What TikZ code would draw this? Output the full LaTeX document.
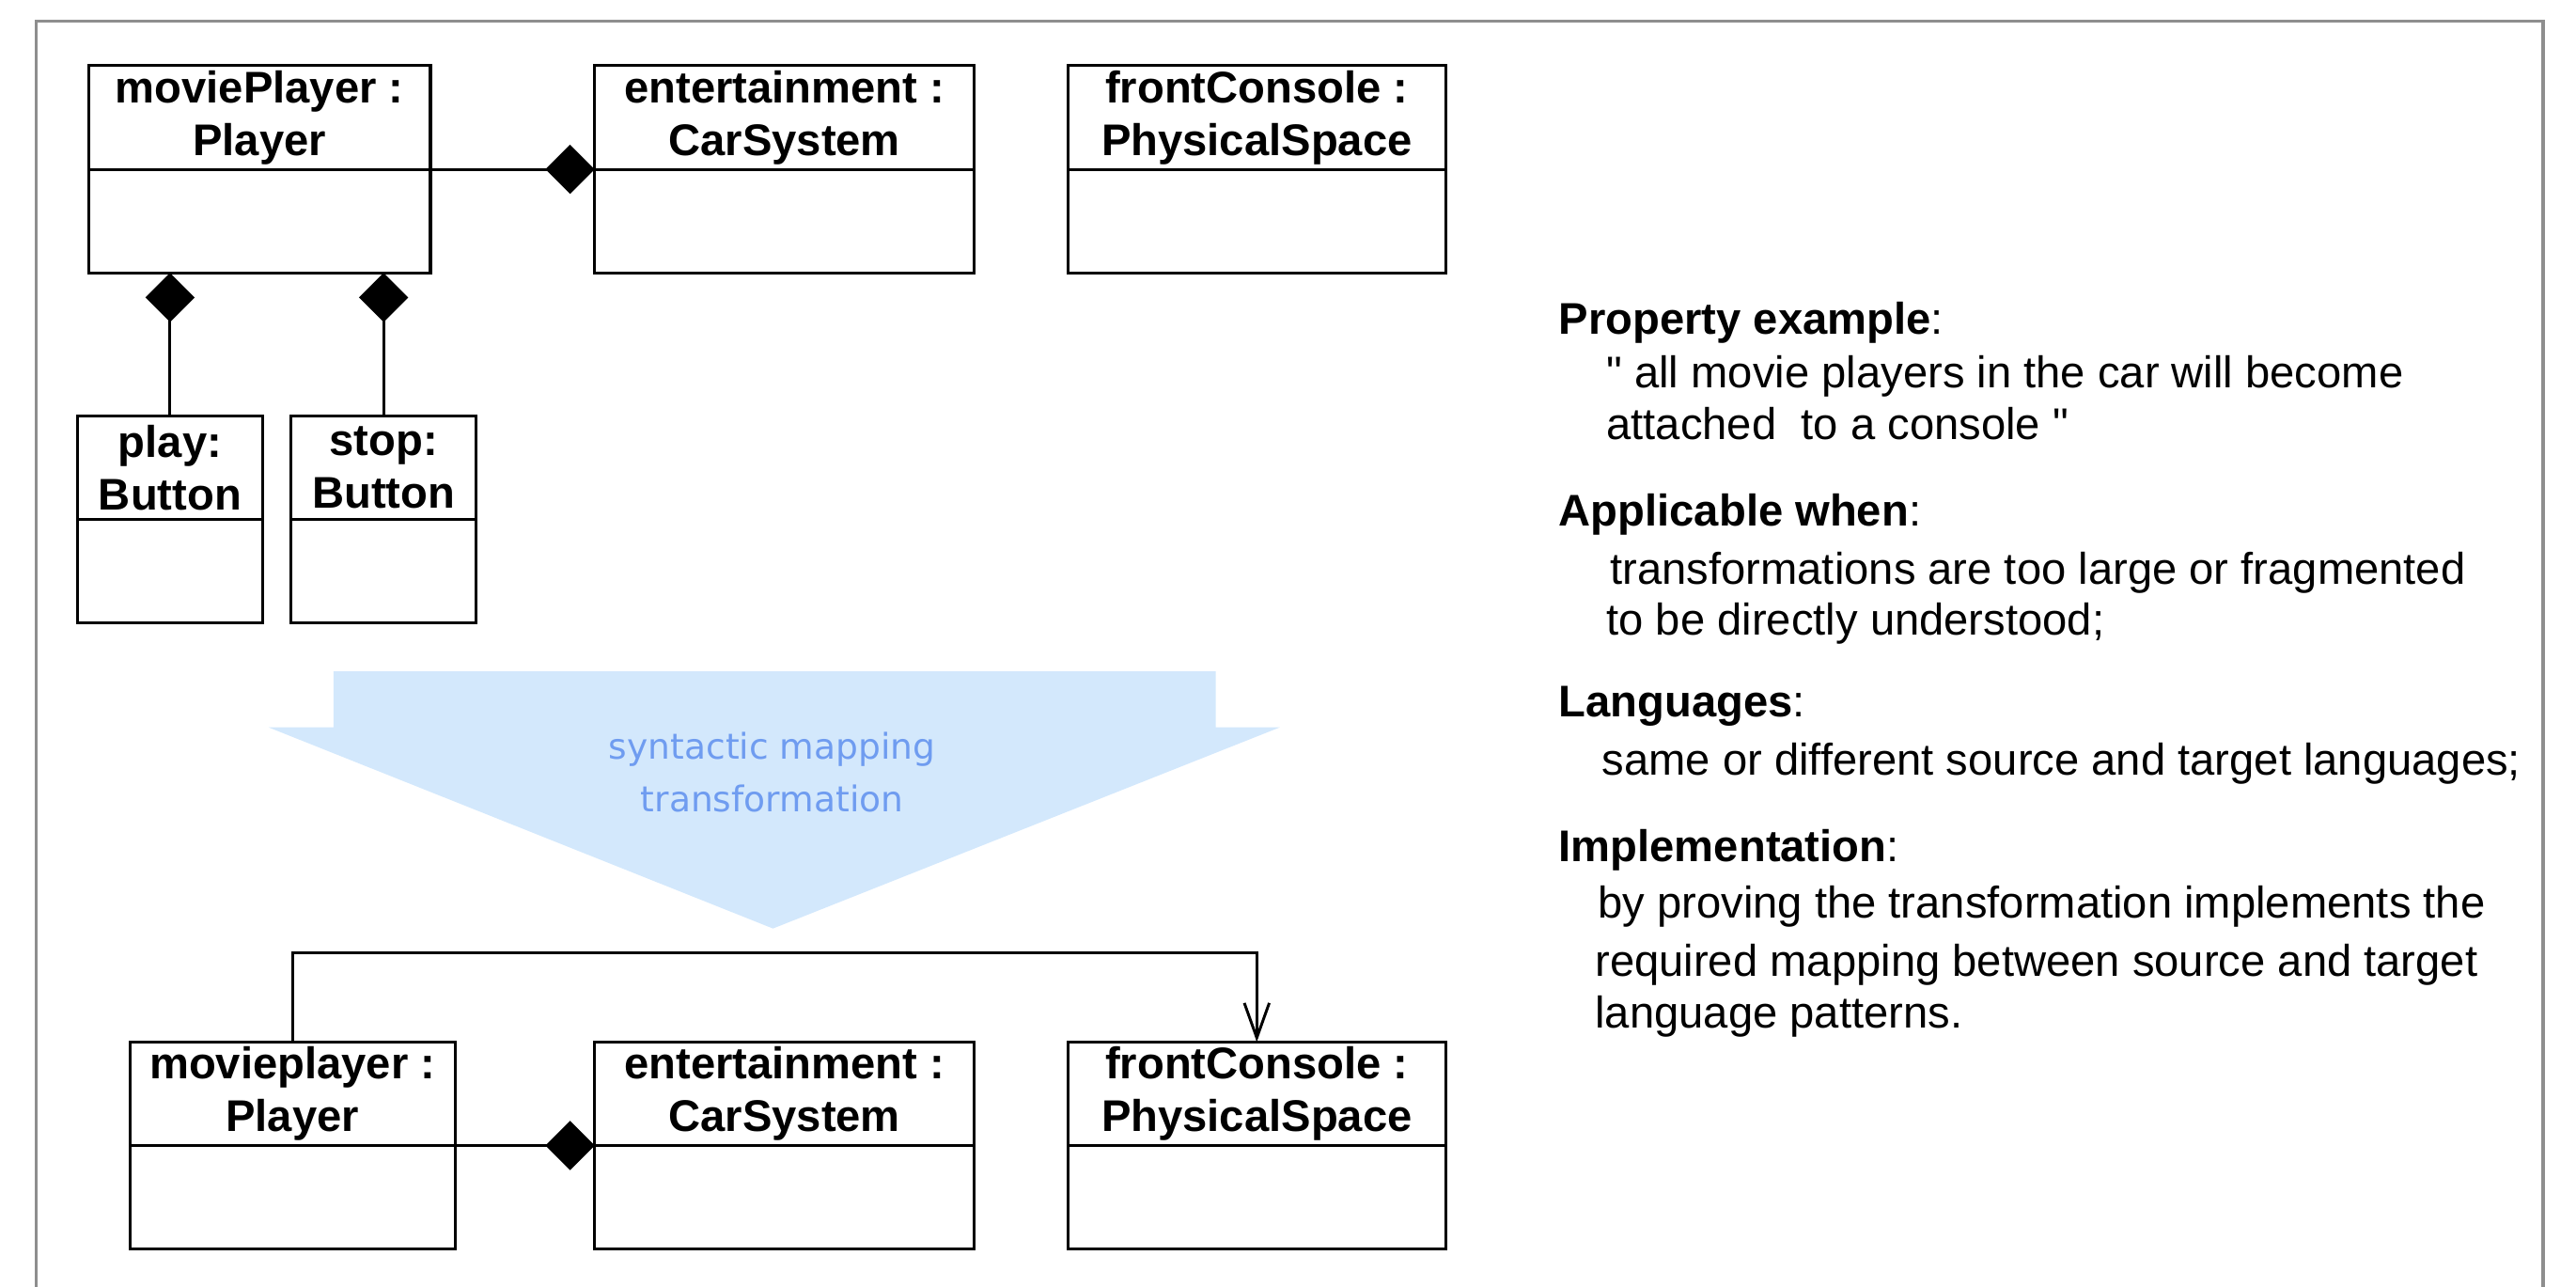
\documentclass[tikz,border=0pt]{standalone}
\usepackage{fontspec}
\setmainfont{Liberation Sans}
\newfontfamily\mapfont{DejaVu Sans}
\usetikzlibrary{positioning,arrows.meta}
\definecolor{framegray}{HTML}{8E8E8E}
\definecolor{mapfill}{HTML}{D3E8FC}
\definecolor{maptext}{HTML}{6F9CF0}
\tikzset{
  objhead/.style={draw,line width=1.25pt,inner sep=0pt,outer sep=0pt,minimum width=#1,minimum height=15.75mm,align=center,font=\fontsize{19.2}{22.8}\selectfont\bfseries},
  objbody/.style={draw,line width=1.25pt,inner sep=0pt,outer sep=0pt,minimum width=#1,minimum height=15.75mm},
  compose/.style={line width=1.2pt,-{Diamond[length=7.5mm,width=7.5mm]}},
  navig/.style={line width=1.2pt,-{Straight Barb[length=5.3mm,width=3.8mm]}},
  prop/.style={anchor=base west,inner sep=0pt,font=\fontsize{19.2}{22.8}\selectfont},
}

\begin{document}
\begin{tikzpicture}[x=0.25mm,y=-0.25mm]
\useasboundingbox (0,0) rectangle (1568,782.6);
\draw[framegray,line width=1.3pt] (22,790) -- (22,13) -- (1548,13) -- (1548,790);

\node[objhead=52mm,anchor=north west] (mp) at (54,40) {moviePlayer :\\Player};
\node[objbody=52mm,below=0pt of mp] (mpb) {};
\node[objhead=57.75mm,anchor=north west] (ent) at (362,40) {entertainment :\\CarSystem};
\node[objbody=57.75mm,below=0pt of ent] (entb) {};
\node[objhead=57.5mm,anchor=north west] (fc) at (650,40) {frontConsole :\\PhysicalSpace};
\node[objbody=57.5mm,below=0pt of fc] (fcb) {};
\node[objhead=28.25mm,anchor=north west] (play) at (47,253) {play:\\Button};
\node[objbody=28.25mm,below=0pt of play] (playb) {};
\node[objhead=28.25mm,anchor=north west] (stop) at (177,253) {stop:\\Button};
\node[objbody=28.25mm,below=0pt of stop] (stopb) {};

\draw[compose] (mp.south east) -- (ent.south west);
\draw[compose] (play.north) -- (play.north |- mpb.south);
\draw[compose] (stop.north) -- (stop.north |- mpb.south);

\fill[mapfill] (203,408.5) -- (740,408.5) -- (740,442.6) -- (779,442.6) -- (470.5,565) -- (163.5,442.6) -- (203,442.6) -- cycle;
\node[align=center,text=maptext,font=\mapfont\fontsize{15.3}{22.76}\selectfont] (maplabel) at (470,470) {syntactic mapping\\transformation};

\node[objhead=49.5mm,anchor=north west] (mp2) at (79,634) {movieplayer :\\Player};
\node[objbody=49.5mm,below=0pt of mp2] (mp2b) {};
\node[objhead=57.75mm,anchor=north west] (ent2) at (362,634) {entertainment :\\CarSystem};
\node[objbody=57.75mm,below=0pt of ent2] (ent2b) {};
\node[objhead=57.5mm,anchor=north west] (fc2) at (650,634) {frontConsole :\\PhysicalSpace};
\node[objbody=57.5mm,below=0pt of fc2] (fc2b) {};

\draw[compose] (mp2.south east) -- (ent2.south west);
\coordinate (turn) at (0,580);
\draw[navig] (mp2.north) -- (mp2.north |- turn) -| (fc2.north);

\node[prop] (pe-h) at (948.6,203.6) {\textbf{Property example}:};
\node[prop] (pe-1) at (977.6,236.2) {\textquotedbl{} all movie players in the car will become};
\node[prop] (pe-2) at (977.6,267.2) {attached\ \ to a console \textquotedbl};
\node[prop] (aw-h) at (948.6,319.9) {\textbf{Applicable when}:};
\node[prop] (aw-1) at (979.9,355.5) {transformations are too large or fragmented};
\node[prop] (aw-2) at (977.6,386.5) {to be directly understood;};
\node[prop] (la-h) at (948.6,436.2) {\textbf{Languages}:};
\node[prop] (la-1) at (974.9,471.8) {same or different source and target languages;};
\node[prop] (im-h) at (948.6,524.5) {\textbf{Implementation}:};
\node[prop] (im-1) at (972.4,558.6) {by proving the transformation implements the};
\node[prop] (im-2) at (970.7,594.3) {required mapping between source and target};
\node[prop] (im-3) at (970.7,625.3) {language patterns.};
\end{tikzpicture}
\end{document}
